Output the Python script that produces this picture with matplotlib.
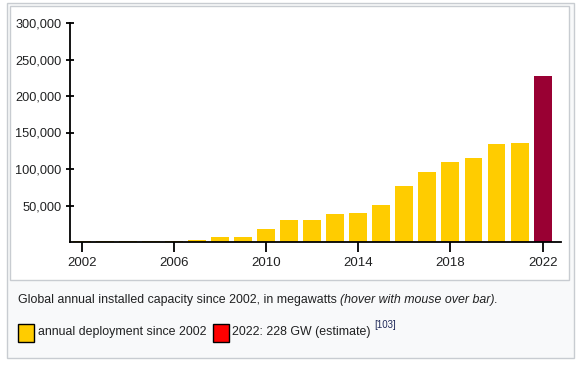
import matplotlib
matplotlib.use("Agg")
import matplotlib.pyplot as plt
from matplotlib.patches import Rectangle
from matplotlib.ticker import FuncFormatter

# Global annual installed PV capacity, MW
years = list(range(2002, 2023))
capacity_mw = [1000, 1000, 1800, 1800, 1800, 2900, 6800, 6900, 17800, 30100,
               30200, 38400, 39700, 50700, 77100, 95900, 109600, 115100,
               134200, 135600, 228000]
estimate_year = 2022
y_ticks = [50000, 100000, 150000, 200000, 250000, 300000]
x_ticks = [2002, 2006, 2010, 2014, 2018, 2022]

caption = "Global annual installed capacity since 2002, in megawatts "
caption_note = "(hover with mouse over bar)."
legend_labels = ["annual deployment since 2002", "2022: 228 GW (estimate)"]

W, H = 579, 365
text_color = "#202122"
border = "#c8ccd1"
yellow = "#ffcc00"
darkred = "#990033"

plt.rcParams["font.family"] = ["Liberation Sans", "DejaVu Sans"]

fig = plt.figure(figsize=(W / 100, H / 100), dpi=100)


def px(x, y):
    """pixel (from top-left) -> figure fraction"""
    return x / W, 1 - y / H


def box(x0, y0, x1, y1, z=-5, **kw):
    fx0, fy1 = px(x0, y1)
    fx1, fy0 = px(x1, y0)
    fig.patches.append(Rectangle((fx0, fy1), fx1 - fx0, fy0 - fy1,
                                 transform=fig.transFigure, zorder=z, **kw))


# outer thumbnail frame and inner white image box
box(6.5, 2.5, 573.5, 357.5, z=-10, facecolor="#f8f9fa", edgecolor=border, lw=1)
box(9.5, 5.5, 568.5, 279.5, z=-9, facecolor="white", edgecolor=border, lw=1)

# axes placed in pixels: x 70..561, y 23..242
l, t = px(70, 23)
r, b = px(561, 242)
ax = fig.add_axes([l, b, r - l, t - b], zorder=5)
ax.set_facecolor("none")

colors = [darkred if y == estimate_year else yellow for y in years]
ax.bar(years, capacity_mw, width=0.78, color=colors)

ax.set_xlim(2001.48, 2022.8)
ax.set_ylim(0, 300000)
ax.set_xticks(x_ticks)
ax.set_yticks(y_ticks)
ax.yaxis.set_major_formatter(FuncFormatter(lambda v, p: f"{int(v):,}"))

for s in ["top", "right"]:
    ax.spines[s].set_visible(False)
for s in ["left", "bottom"]:
    ax.spines[s].set_linewidth(1.3)
    ax.spines[s].set_color("black")

ax.tick_params(axis="y", direction="inout", length=6, width=1.3,
               labelsize=9.2, labelcolor=text_color, pad=3)
ax.tick_params(axis="x", direction="out", length=7, width=1.3,
               labelsize=9.5, labelcolor=text_color, pad=4)

# caption
cx, cy = px(18, 300)
t1 = fig.text(cx, cy, caption, fontsize=8.9, color=text_color, va="center")
fig.canvas.draw()
bb = t1.get_window_extent()
fig.text(bb.x1 / W, cy, caption_note, fontsize=8.9, color=text_color,
         style="italic", va="center")

# legend row
box(17.5, 323.5, 33.5, 341.5, z=1, facecolor=yellow, edgecolor="black", lw=1)
lx, ly = px(38, 332)
fig.text(lx, ly, legend_labels[0], fontsize=8.9, color=text_color, va="center")
box(212.5, 323.5, 228.5, 341.5, z=1, facecolor="#ff0000", edgecolor="black", lw=1)
lx, ly = px(232, 332)
t2 = fig.text(lx, ly, legend_labels[1], fontsize=8.9, color=text_color,
              va="center")
fig.canvas.draw()
bb = t2.get_window_extent()
sx, sy = px(0, 325)
fig.text(bb.x1 / W + 4 / W, sy, "[103]", fontsize=7, color="#202a5a",
         va="center")

fig.savefig("out.png", dpi=100)
